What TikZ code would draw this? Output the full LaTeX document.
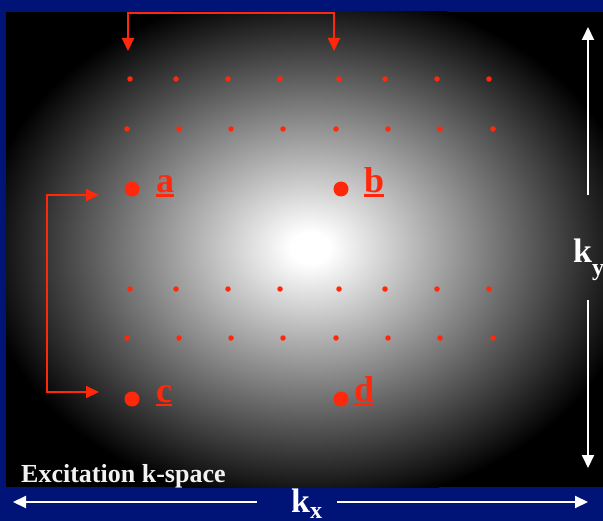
\documentclass[tikz,border=0pt]{standalone}
\usepackage{fontspec}
\setmainfont{Liberation Serif}
\usetikzlibrary{arrows.meta}
\definecolor{slideBlue}{RGB}{0,20,120}
\definecolor{sampleRed}{RGB}{255,40,10}
\definecolor{captionWhite}{RGB}{242,242,242}
\newcommand{\labelfont}{\fontsize{36bp}{40bp}\selectfont\bfseries}
\newcommand{\axisfont}{\fontsize{34bp}{38bp}\selectfont\bfseries}
\newcommand{\axissubfont}{\fontsize{24bp}{26bp}\selectfont\bfseries}
\newcommand{\captionfont}{\fontsize{26bp}{30bp}\selectfont\bfseries}
\newcommand{\ulabel}[1]{\setbox0\hbox{\textbf{#1}}\rlap{\rule[-4bp]{\wd0}{2.5bp}}\box0}
\pgfdeclareradialshading{glow}{\pgfpoint{0bp}{0bp}}{color(0bp)=(white); color(1.5bp)=(white); color(25bp)=(black); color(50bp)=(black)}

\begin{document}
\begin{tikzpicture}[x=1bp, y=-1bp,
    dot/.style={circle, fill=sampleRed, inner sep=0pt, minimum size=5.5bp},
    bigdot/.style={circle, fill=sampleRed, inner sep=0pt, minimum size=15bp},
    lbl/.style={text=sampleRed, font=\labelfont, inner sep=0pt, anchor=base west},
    axis/.style={text=white, inner sep=0pt, anchor=base west},
    redarr/.style={{Triangle[length=13bp, width=12bp]}-{Triangle[length=13bp, width=12bp]}, line width=2bp, sampleRed},
    whitearr/.style={-{Triangle[length=13bp, width=12bp]}, line width=2bp, white}
  ]
  \useasboundingbox (0,0) rectangle (603,521);
  \fill[slideBlue] (0,0) rectangle (603,521);
  % excitation k-space panel
  \fill[black] (6,12) rectangle (603,487);
  \begin{scope}
    \clip (6,12) rectangle (603,487);
    \shade[shading=glow] (310,248) ellipse [x radius=330, y radius=260];
  \end{scope}

  % sample grid
  \foreach \x [count=\i] in {130,176,228,280,339,385,437,489} {
    \node[dot] (r1-\i) at (\x,79) {};
    \node[dot] (r4-\i) at (\x,289) {};
  }
  \foreach \x [count=\i] in {127,179,231,283,336,388,440,493} {
    \node[dot] (r2-\i) at (\x,129) {};
    \node[dot] (r5-\i) at (\x,338) {};
  }
  \node[bigdot] (a) at (132,189) {};
  \node[bigdot] (b) at (341,189) {};
  \node[bigdot] (c) at (132,399) {};
  \node[bigdot] (d) at (341,399) {};
  \node[lbl] (la) at (156,193) {\ulabel{a}};
  \node[lbl] (lb) at (364,193) {\ulabel{b}};
  \node[lbl] (lc) at (156,402) {\ulabel{c}};
  \node[lbl] (ld) at (354,401) {\ulabel{d}};

  % shifts
  \coordinate (tipA) at (128,51);
  \coordinate (tipB) at (334,51);
  \coordinate (topL) at (128,13);
  \coordinate (topR) at (334,13);
  \draw[redarr] (tipA) -- (topL) -- (topR) -- (tipB);
  \coordinate (tipAc) at (99,195);
  \coordinate (tipC) at (99,392);
  \coordinate (sideT) at (47,195);
  \coordinate (sideB) at (47,392);
  \draw[redarr] (tipAc) -- (sideT) -- (sideB) -- (tipC);

  % axes
  \node[axis, font=\captionfont, text=captionWhite] (caption) at (21,482) {Excitation k-space};
  \node[axis] (kx) at (291,512) {\axisfont k\raisebox{-6bp}{\axissubfont x}};
  \node[axis] (ky) at (573,262) {\axisfont k\raisebox{-13bp}{\axissubfont y}};
  \coordinate (kxL) at (257,502);
  \coordinate (kxR) at (337,502);
  \coordinate (kyT) at (588,195);
  \coordinate (kyB) at (588,300);
  \draw[whitearr] (kxL) -- (13,502);
  \draw[whitearr] (kxR) -- (588,502);
  \draw[whitearr] (kyT) -- (588,27);
  \draw[whitearr] (kyB) -- (588,468);
\end{tikzpicture}
\end{document}
